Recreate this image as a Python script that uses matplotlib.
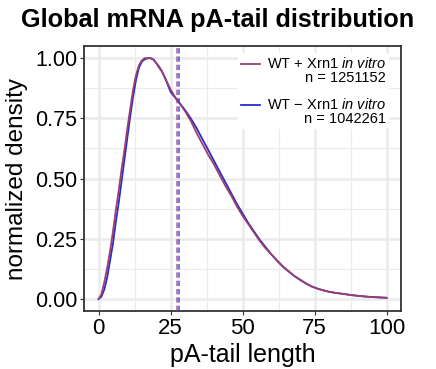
import matplotlib
matplotlib.use("Agg")
import matplotlib.pyplot as plt
from matplotlib.ticker import MultipleLocator
from matplotlib.legend_handler import HandlerLine2D

plt.rcParams['font.family'] = ['Liberation Sans', 'DejaVu Sans']
plt.rcParams['mathtext.fontset'] = 'custom'
plt.rcParams['mathtext.rm'] = 'Liberation Sans'
plt.rcParams['mathtext.it'] = 'Liberation Sans:italic'

# pA-tail length vs normalized density
len_plus = [0, 1, 2, 3, 4, 5, 6, 7, 8, 9, 10, 11, 12, 13, 14, 15, 16, 17, 18, 19,
            20, 21, 22, 23, 24, 25, 26, 27, 28, 30, 32, 34, 36, 38, 40, 42, 44, 46,
            48, 50, 52, 54, 56, 58, 60, 62, 64, 66, 68, 70, 72, 74, 76, 78, 80, 82,
            85, 88, 91, 94, 97, 100]
dens_plus = [0.0, 0.02, 0.07, 0.13, 0.20, 0.28, 0.37, 0.45, 0.54, 0.62, 0.71, 0.79,
             0.87, 0.93, 0.97, 0.99, 1.00, 1.00, 1.00, 0.995, 0.98, 0.96, 0.945, 0.92,
             0.895, 0.87, 0.85, 0.83, 0.815, 0.78, 0.74, 0.69, 0.645, 0.60, 0.56,
             0.515, 0.47, 0.43, 0.385, 0.345, 0.31, 0.275, 0.24, 0.21, 0.185, 0.16,
             0.135, 0.115, 0.095, 0.08, 0.065, 0.052, 0.043, 0.036, 0.03, 0.026,
             0.021, 0.016, 0.012, 0.009, 0.007, 0.005]

len_minus = len_plus
dens_minus = [0.0, 0.01, 0.04, 0.09, 0.16, 0.23, 0.32, 0.40, 0.49, 0.58, 0.67, 0.76,
              0.84, 0.91, 0.96, 0.985, 0.995, 1.00, 1.00, 0.995, 0.98, 0.965, 0.945,
              0.92, 0.89, 0.86, 0.845, 0.83, 0.815, 0.785, 0.75, 0.71, 0.665, 0.62,
              0.575, 0.53, 0.485, 0.44, 0.395, 0.355, 0.315, 0.28, 0.245, 0.215,
              0.185, 0.158, 0.134, 0.114, 0.095, 0.079, 0.064, 0.052, 0.043, 0.036,
              0.03, 0.026, 0.021, 0.016, 0.012, 0.009, 0.007, 0.005]

median_plus = 27.1
median_minus = 28.0
n_plus = 1251152
n_minus = 1042261

col_plus = '#9B3F6E'
col_minus = '#2A2ACF'


# legend key drawn level with the first text line (like ggplot here)
class TopLine(HandlerLine2D):
    def create_artists(self, legend, orig_handle, xdescent, ydescent,
                       width, height, fontsize, trans):
        arts = super().create_artists(legend, orig_handle, xdescent, ydescent,
                                      width, height, fontsize, trans)
        for a in arts:
            a.set_ydata([y + 0.5 * fontsize for y in a.get_ydata()])
        return arts


fig = plt.figure(figsize=(4.36, 3.69), dpi=100)
ax = fig.add_axes([0.193, 0.157, 0.727, 0.718])

ax.plot(len_plus, dens_plus, color=col_plus, lw=1.3, zorder=3,
        label="WT + Xrn1 $\\it{in\\ vitro}$\nn = %d" % n_plus)
ax.plot(len_minus, dens_minus, color=col_minus, lw=1.3, zorder=2,
        label="WT \u2212 Xrn1 $\\it{in\\ vitro}$\nn = %d" % n_minus)
ax.axvline(median_plus, color=col_plus, alpha=0.7, lw=1.3, ls=(0, (3, 1.6)), zorder=4)
ax.axvline(median_minus, color=col_minus, alpha=0.7, lw=1.3, ls=(0, (3, 1.6)), zorder=4)

ax.set_xlim(-5, 105)
ax.set_ylim(-0.05, 1.05)
ax.xaxis.set_major_locator(MultipleLocator(25))
ax.xaxis.set_minor_locator(MultipleLocator(12.5))
ax.yaxis.set_minor_locator(MultipleLocator(0.125))
ax.set_yticks([0, 0.25, 0.5, 0.75, 1.0])
ax.set_yticklabels(['0.00', '0.25', '0.50', '0.75', '1.00'])
ax.grid(which='major', color='#EBEBEB', lw=1.8)
ax.grid(which='minor', color='#EBEBEB', lw=0.9)
ax.set_axisbelow(True)
ax.tick_params(which='minor', length=0)
ax.tick_params(which='major', length=3, color='#333333', pad=2)
ax.tick_params(axis='y', labelsize=15.5)
ax.tick_params(axis='x', labelsize=16)
for s in ax.spines.values():
    s.set_color('#333333')
    s.set_linewidth(1.3)

ax.set_xlabel('pA-tail length', fontsize=18, labelpad=3)
ax.set_ylabel('normalized density', fontsize=17.5, labelpad=5)
fig.text(0.5, 0.945, 'Global mRNA pA-tail distribution', fontsize=18.2,
         fontweight='bold', ha='center', va='center')

leg = ax.legend(loc='upper right', bbox_to_anchor=(0.962, 0.975), frameon=True,
                fontsize=10.5, handlelength=1.3, handletextpad=0.5,
                labelspacing=0.8, borderaxespad=0.0, borderpad=0.2,
                handler_map={plt.Line2D: TopLine()})
leg.get_frame().set_facecolor('white')
leg.get_frame().set_edgecolor('none')
leg.get_frame().set_alpha(1)
for t in leg.get_texts():
    t.set_multialignment('right')
    t.set_linespacing(1.05)

fig.savefig('out.png', dpi=100)
